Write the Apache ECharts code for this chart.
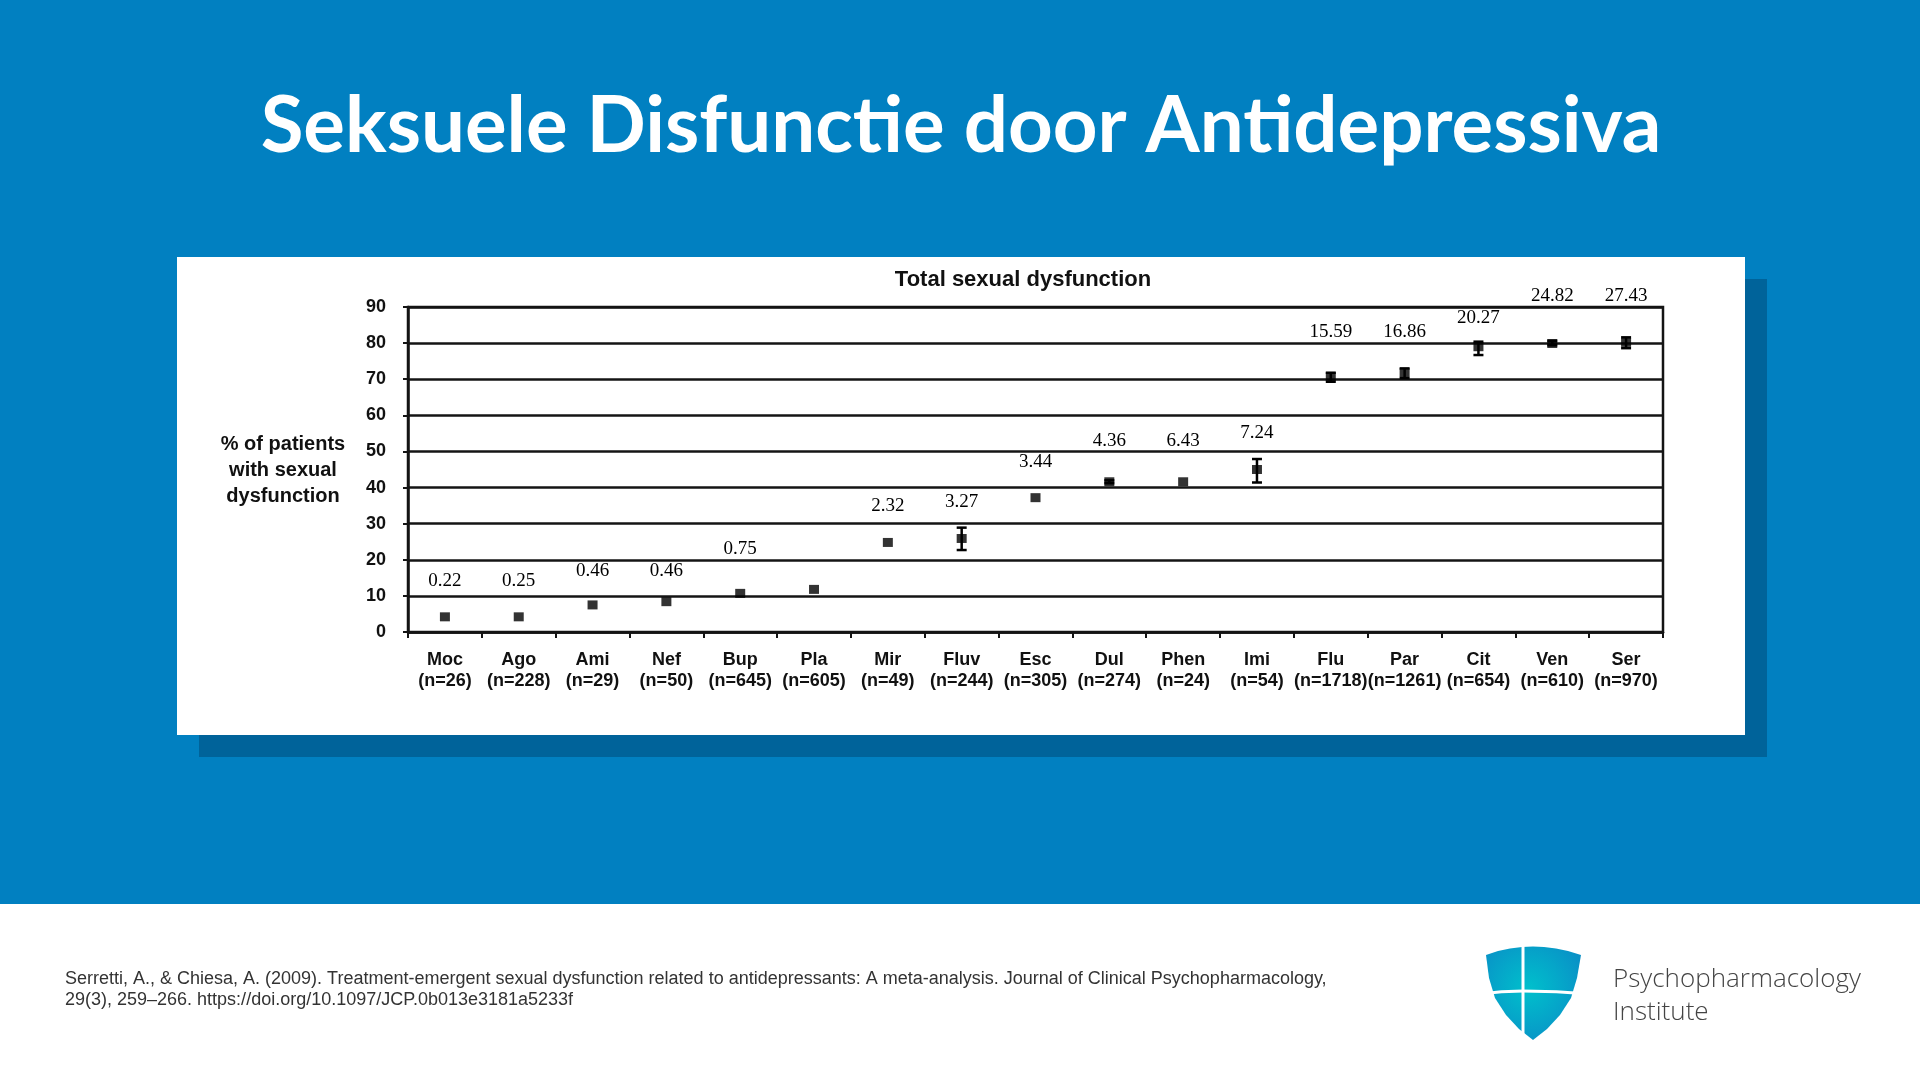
<!DOCTYPE html>
<html>
<head>
<meta charset="utf-8">
<script src="https://cdn.jsdelivr.net/npm/echarts@6/dist/echarts.min.js"></script>
<style>
html,body{margin:0;padding:0;width:1920px;height:1080px;overflow:hidden;background:#fff;}
#chart{width:1920px;height:1080px;}
</style>
</head>
<body>
<div id="chart"></div>
<script>
// ---- data ----
const drugs = ['Moc','Ago','Ami','Nef','Bup','Pla','Mir','Fluv','Esc','Dul','Phen','Imi','Flu','Par','Cit','Ven','Ser'];
const sampleSizes = [26,228,29,50,645,605,49,244,305,274,24,54,1718,1261,654,610,970];
const pctDysfunction = [4.2,4.2,7.5,8.4,10.7,11.8,24.8,25.9,37.2,41.6,41.6,45.0,70.7,71.8,79.0,79.9,80.2];
const ciLow  = [4.2,4.2,7.5,8.4,10.7,11.8,24.8,22.7,37.2,41.2,41.6,41.4,69.3,70.3,76.7,79.4,78.6];
const ciHigh = [4.2,4.2,7.5,8.4,10.7,11.8,24.8,28.9,37.2,42.0,41.6,47.9,71.8,73.0,80.4,80.6,81.6];
const oddsRatios = ['0.22','0.25','0.46','0.46','0.75','','2.32','3.27','3.44','4.36','6.43','7.24','15.59','16.86','20.27','24.82','27.43'];
const yTicks = [0,10,20,30,40,50,60,70,80,90];

// label placement heuristic: above the point, nudged so the text does not sit on a gridline
function labelCenter(i){
  const step = 10, clear = 2.6, minGap = 6.5;
  let c = pctDysfunction[i] + 10;
  const line = Math.round(c / step) * step;
  if (Math.abs(c - line) < clear) {
    const down = line - 3, up = line + 3;
    c = (down >= ciHigh[i] + minGap) ? down : up;
  }
  return c;
}

const chart = echarts.init(document.getElementById('chart'), null, {renderer:'canvas', width:1920, height:1080});

const LINE = '#141414';
const shieldPts = [[1486,955],[1498,951],[1510,948.5],[1522,947],[1533,946.5],[1544,947],[1556,948.5],[1568,951],[1581,955],
  [1577,978],[1571,998],[1560,1015],[1547,1029],[1533,1040],[1519,1029],[1506,1015],[1495,998],[1489,978]];
const option = {
  animation:false,
  backgroundColor:'#ffffff',
  graphic:[
    {type:'rect', shape:{x:0,y:0,width:1920,height:904}, style:{fill:'#0180C1'}, z:-10, silent:true},
    {type:'rect', shape:{x:199,y:279,width:1568,height:478}, style:{fill:'#00639A'}, z:-9, silent:true},
    {type:'rect', shape:{x:177,y:257,width:1568,height:478}, style:{fill:'#ffffff'}, z:-8, silent:true},
    {type:'text', x:961, y:127, z:10, style:{text:'Seksuele Disfunctie door Antidepressiva', fill:'#ffffff',
      font:'bold 78px Lato', textAlign:'center', textVerticalAlign:'middle'}},
    {type:'text', x:1023, y:280, z:10, style:{text:'Total sexual dysfunction', fill:'#111',
      font:'bold 22px "Liberation Sans"', textAlign:'center', textVerticalAlign:'middle'}},
    {type:'text', x:283, y:470, z:10, style:{text:'% of patients\nwith sexual\ndysfunction', fill:'#111',
      font:'bold 20px "Liberation Sans"', lineHeight:26, textAlign:'center', textVerticalAlign:'middle'}},
    {type:'text', x:65, y:969, z:10, style:{text:'Serretti, A., & Chiesa, A. (2009). Treatment-emergent sexual dysfunction related to antidepressants: A meta-analysis. Journal of Clinical Psychopharmacology,\n29(3), 259–266. https://doi.org/10.1097/JCP.0b013e3181a5233f', fill:'#333',
      font:'18px "Liberation Sans"', lineHeight:21, textAlign:'left', textVerticalAlign:'top'}},
    // logo shield
    {type:'polygon', z:10, shape:{points:shieldPts},
      style:{fill:{type:'radial', x:0.45, y:0.45, r:0.7, colorStops:[{offset:0,color:'#00C0CC'},{offset:1,color:'#0A8CC6'}]}}},
    {type:'rect', z:11, shape:{x:1521.5,y:940,width:3,height:102}, style:{fill:'#ffffff'}},
    {type:'polyline', z:11, shape:{points:[[1480,994],[1523,991],[1590,994]], smooth:0.5}, style:{stroke:'#ffffff', lineWidth:3, fill:null}},
    {type:'text', x:1613, y:980, z:10, style:{text:'Psychopharmacology', fill:'#444',
      font:'300 26px "Open Sans"', textAlign:'left', textVerticalAlign:'middle'}},
    {type:'text', x:1613, y:1013, z:10, style:{text:'Institute', fill:'#444',
      font:'300 26px "Open Sans"', textAlign:'left', textVerticalAlign:'middle'}}
  ],
  grid:{left:408, right:257, top:307, bottom:448, show:true, borderColor:LINE, borderWidth:2.5, backgroundColor:'transparent'},
  xAxis:{
    type:'category', data:drugs, boundaryGap:true,
    axisLine:{lineStyle:{color:LINE,width:2.5}},
    axisTick:{show:true, length:6, lineStyle:{color:LINE,width:2}, alignWithLabel:false},
    axisLabel:{interval:0, margin:18, color:'#111', fontFamily:'Liberation Sans', fontWeight:'bold', fontSize:18, lineHeight:21,
      formatter:(v,i)=> v + '\n(n=' + sampleSizes[i] + ')'},
    splitLine:{show:false}
  },
  yAxis:{
    type:'value', min:yTicks[0], max:yTicks[yTicks.length-1], interval:10,
    axisLine:{show:true, lineStyle:{color:LINE,width:2.5}},
    axisTick:{show:true, length:5, lineStyle:{color:LINE,width:2}},
    axisLabel:{margin:22, color:'#111', fontFamily:'Liberation Sans', fontWeight:'bold', fontSize:18},
    splitLine:{show:true, lineStyle:{color:LINE,width:2.5}}
  },
  series:[
    {
      type:'custom', z:3,
      data: drugs.map((d,i)=>[i, ciLow[i], ciHigh[i]]),
      renderItem:(params, api)=>{
        const lo = api.coord([api.value(0), api.value(1)]);
        const hi = api.coord([api.value(0), api.value(2)]);
        if (Math.abs(lo[1]-hi[1]) < 1) return {type:'group', children:[]};
        const w = 5;
        return {type:'group', children:[
          {type:'line', shape:{x1:lo[0],y1:lo[1],x2:hi[0],y2:hi[1]}, style:{stroke:'#000',lineWidth:2.5}},
          {type:'line', shape:{x1:lo[0]-w,y1:lo[1],x2:lo[0]+w,y2:lo[1]}, style:{stroke:'#000',lineWidth:2.5}},
          {type:'line', shape:{x1:hi[0]-w,y1:hi[1],x2:hi[0]+w,y2:hi[1]}, style:{stroke:'#000',lineWidth:2.5}}
        ]};
      }
    },
    {
      type:'scatter', z:4, symbol:'rect', symbolSize:[10,9],
      itemStyle:{color:'#000'},
      data: pctDysfunction
    },
    {
      type:'custom', z:5,
      data: drugs.map((d,i)=>[i, labelCenter(i)]),
      renderItem:(params, api)=>{
        const p = api.coord([api.value(0), api.value(1)]);
        return {type:'text', x:p[0], y:p[1], style:{text:oddsRatios[params.dataIndex], fill:'#000',
          font:'19px "Liberation Serif"', textAlign:'center', textVerticalAlign:'middle'}};
      }
    }
  ]
};
chart.setOption(option);
</script>
</body>
</html>
